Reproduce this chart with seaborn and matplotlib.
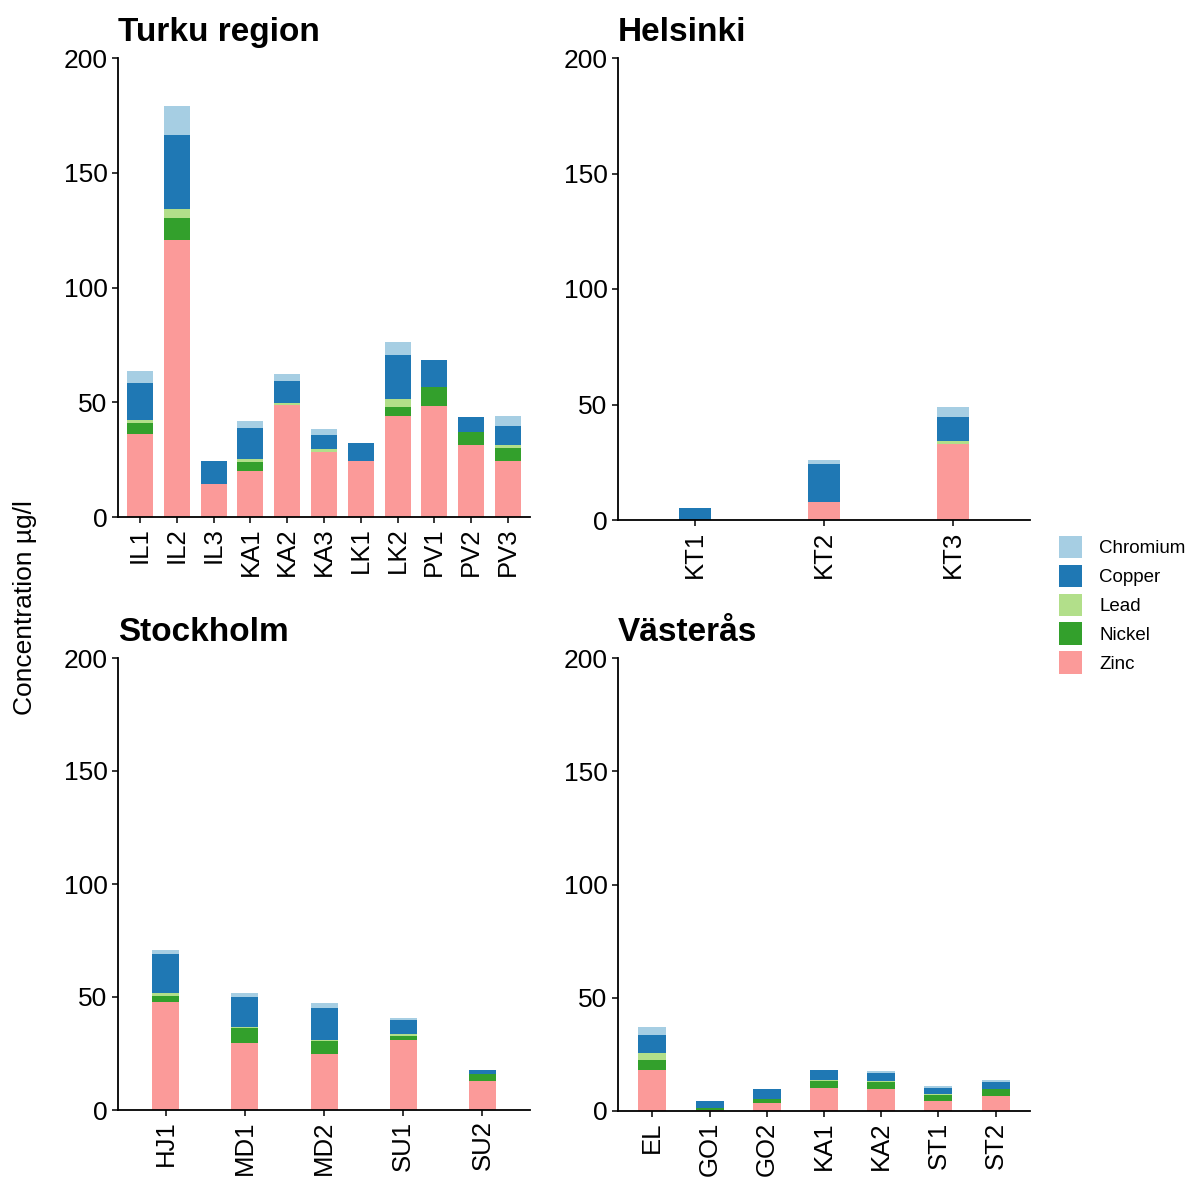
import pandas as pd
import matplotlib
matplotlib.use("Agg")
import matplotlib.pyplot as plt
import seaborn as sns
from matplotlib.patches import Patch

# metals, stacked from the bottom up
metals = ["Zinc", "Nickel", "Lead", "Copper", "Chromium"]
metal_colors = {"Chromium": "#A6CEE3", "Copper": "#1F78B4", "Lead": "#B2DF8A",
                "Nickel": "#33A02C", "Zinc": "#FB9A99"}

# Turku region
turku_sites = ["IL1", "IL2", "IL3", "KA1", "KA2", "KA3", "LK1", "LK2", "PV1", "PV2", "PV3"]
turku_zinc = [36.0, 120.7, 14.5, 20.2, 48.7, 28.2, 24.4, 44.2, 48.4, 31.4, 24.4]
turku_nickel = [4.8, 9.7, 0.0, 3.6, 0.0, 0.0, 0.0, 3.7, 8.1, 5.8, 5.5]
turku_lead = [1.5, 3.8, 0.0, 1.5, 0.8, 1.4, 0.0, 3.4, 0.0, 0.0, 1.5]
turku_copper = [15.9, 32.2, 9.8, 13.3, 9.8, 6.0, 7.7, 19.2, 11.9, 6.5, 8.4]
turku_chromium = [5.4, 12.7, 0.0, 3.2, 2.9, 2.9, 0.0, 5.6, 0.0, 0.0, 4.4]

# Helsinki
helsinki_sites = ["KT1", "KT2", "KT3"]
helsinki_zinc = [0.0, 7.6, 33.0]
helsinki_nickel = [0.0, 0.0, 0.0]
helsinki_lead = [0.0, 0.0, 1.0]
helsinki_copper = [5.3, 16.5, 10.5]
helsinki_chromium = [0.0, 1.9, 4.6]

# Stockholm
stockholm_sites = ["HJ1", "MD1", "MD2", "SU1", "SU2"]
stockholm_zinc = [47.8, 29.5, 24.6, 30.8, 12.7]
stockholm_nickel = [2.6, 6.7, 6.0, 2.0, 3.1]
stockholm_lead = [1.5, 0.5, 0.5, 0.8, 0.0]
stockholm_copper = [17.1, 13.3, 14.1, 6.2, 2.0]
stockholm_chromium = [1.9, 1.9, 2.0, 1.0, 0.0]

# Västerås
vasteras_sites = ["EL", "GO1", "GO2", "KA1", "KA2", "ST1", "ST2"]
vasteras_zinc = [18.2, 0.3, 3.4, 10.0, 9.6, 4.4, 6.5]
vasteras_nickel = [4.3, 1.2, 2.0, 3.2, 3.2, 2.6, 3.1]
vasteras_lead = [3.1, 0.0, 0.0, 0.3, 0.3, 0.3, 0.3]
vasteras_copper = [7.9, 3.0, 4.4, 4.4, 3.6, 2.7, 3.0]
vasteras_chromium = [3.5, 0.0, 0.0, 0.0, 0.8, 0.9, 0.9]

regions = [
    ("Turku region", turku_sites, [turku_zinc, turku_nickel, turku_lead, turku_copper, turku_chromium]),
    ("Helsinki", helsinki_sites, [helsinki_zinc, helsinki_nickel, helsinki_lead, helsinki_copper, helsinki_chromium]),
    ("Stockholm", stockholm_sites, [stockholm_zinc, stockholm_nickel, stockholm_lead, stockholm_copper, stockholm_chromium]),
    ("Västerås", vasteras_sites, [vasteras_zinc, vasteras_nickel, vasteras_lead, vasteras_copper, vasteras_chromium]),
]

sns.set_theme(style="ticks")
plt.rcParams["font.family"] = ["Liberation Sans", "DejaVu Sans"]
plt.rcParams["text.color"] = "black"
plt.rcParams["axes.labelcolor"] = "black"
plt.rcParams["axes.titlecolor"] = "black"
plt.rcParams["axes.linewidth"] = 1.3
plt.rcParams["xtick.major.width"] = 1.1
plt.rcParams["ytick.major.width"] = 1.1
plt.rcParams["xtick.major.size"] = 4
plt.rcParams["ytick.major.size"] = 4

W, H = 1189, 1182
fig = plt.figure(figsize=(W / 100, H / 100), dpi=100)

# axes boxes in pixels: left, top, right, bottom
boxes = [(118, 58, 530, 517), (618, 58, 1030, 520), (118, 658, 530, 1110), (618, 658, 1030, 1111)]
# absolute bar width about 28 px
bar_px = [26, 32, 27, 28]

for (title, sites, vals), (l, t, r, b), bpx in zip(regions, boxes, bar_px):
    ax = fig.add_axes([l / W, 1 - b / H, (r - l) / W, (b - t) / H])
    df = pd.DataFrame({"site": sites})
    running = [0.0] * len(sites)
    for m, v in zip(metals, vals):
        running = [a + c for a, c in zip(running, v)]
        df[m] = running
    n = len(sites)
    slot = (r - l) / (n + 0.2)
    w = bpx / slot
    # draw cumulative totals from the top layer down so they stack
    for m in reversed(metals):
        sns.barplot(data=df, x="site", y=m, order=sites, color=metal_colors[m],
                    saturation=1, width=w, linewidth=0, errorbar=None, ax=ax)
    ax.set_xlim(-0.6, n - 0.4)
    ax.set_ylim(0, 200)
    ax.set_yticks([0, 50, 100, 150, 200])
    ax.set_xlabel("")
    ax.set_ylabel("")
    ax.tick_params(axis="x", labelrotation=90, labelsize=18.5, colors="black")
    ax.tick_params(axis="y", labelsize=19, colors="black")
    ax.set_title(title, loc="left", fontsize=24, fontweight="bold", pad=12, color="black")
    sns.despine(ax=ax)
    for s in ["left", "bottom"]:
        ax.spines[s].set_color("black")

fig.text(25 / W, 1 - 608 / H, "Concentration µg/l", rotation=90, va="center", ha="center",
         fontsize=19, color="black")

handles = [Patch(facecolor=metal_colors[m], edgecolor="none", label=m) for m in reversed(metals)]
fig.legend(handles=handles, loc="upper left", bbox_to_anchor=(1059 / W, 1 - 536 / H),
           frameon=False, fontsize=13.5, handlelength=1.25, handleheight=1.45,
           labelspacing=0.35, handletextpad=0.9, borderpad=0, borderaxespad=0)

plt.savefig("out.png", dpi=100)
